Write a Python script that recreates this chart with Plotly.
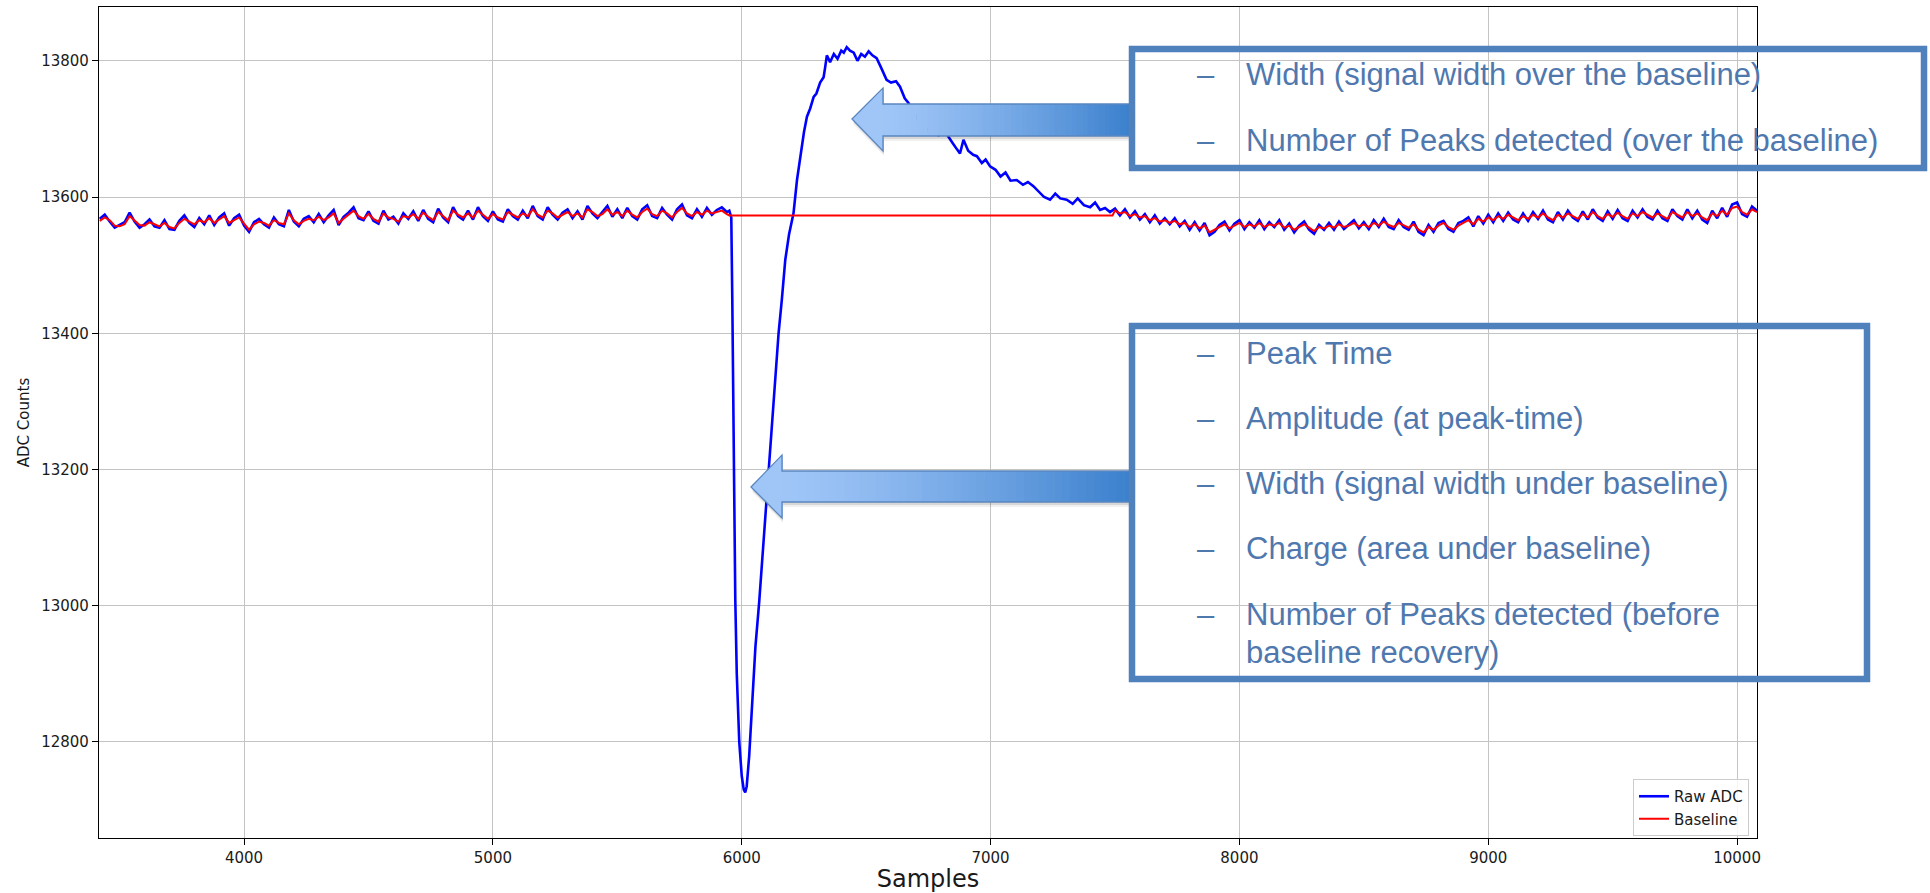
import numpy as np
import plotly.graph_objects as go

# ---------------- data ----------------
pre_start, pre_step = 3420, 20          # samples 3420 .. 5940
pre_raw = [
    13568, 13574, 13564, 13555, 13559, 13563, 13577, 13564, 13555, 13560,
    13567, 13557, 13555, 13566, 13553, 13552, 13565, 13573, 13562, 13556,
    13569, 13560, 13573, 13559, 13570, 13576, 13558, 13569, 13574, 13558,
    13549, 13563, 13568, 13560, 13555, 13570, 13560, 13557, 13581, 13564,
    13557, 13568, 13572, 13563, 13575, 13563, 13573, 13581, 13559, 13571,
    13577, 13585, 13569, 13566, 13579, 13565, 13561, 13580, 13567, 13571,
    13561, 13576, 13568, 13579, 13565, 13581, 13568, 13563, 13583, 13570,
    13563, 13585, 13572, 13567, 13580, 13567, 13585, 13572, 13565, 13579,
    13567, 13564, 13582, 13572, 13567, 13580, 13569, 13587, 13572, 13567,
    13585, 13574, 13567, 13577, 13582, 13569, 13579, 13567, 13587, 13576,
    13569, 13578, 13587, 13571, 13582, 13569, 13584, 13572, 13567, 13582,
    13588, 13572, 13569, 13584, 13574, 13567, 13582, 13589, 13573, 13569,
    13582, 13571, 13584, 13574, 13581, 13585, 13578]
pre_base = [
    13565, 13570, 13566, 13558, 13557, 13560, 13572, 13566, 13559, 13558,
    13563, 13560, 13557, 13562, 13556, 13554, 13562, 13568, 13564, 13560,
    13566, 13563, 13569, 13562, 13567, 13572, 13562, 13566, 13570, 13561,
    13552, 13560, 13564, 13562, 13558, 13566, 13562, 13560, 13576, 13566,
    13560, 13565, 13568, 13566, 13571, 13566, 13570, 13576, 13562, 13568,
    13574, 13580, 13572, 13568, 13575, 13568, 13564, 13576, 13570, 13568,
    13564, 13572, 13570, 13575, 13568, 13577, 13571, 13566, 13578, 13572,
    13566, 13580, 13574, 13570, 13576, 13570, 13580, 13574, 13568, 13575,
    13570, 13567, 13578, 13574, 13570, 13576, 13572, 13582, 13574, 13570,
    13580, 13576, 13570, 13574, 13578, 13572, 13576, 13570, 13582, 13578,
    13572, 13575, 13582, 13574, 13578, 13572, 13580, 13574, 13570, 13578,
    13583, 13575, 13572, 13580, 13576, 13570, 13578, 13584, 13576, 13572,
    13578, 13574, 13580, 13576, 13578, 13580, 13575]

pulse_samples = [
    5950, 5958, 5962, 5966, 5970, 5974, 5980, 5990, 6000, 6008,
    6014, 6020, 6030, 6040, 6055, 6070, 6085, 6100, 6118, 6135,
    6148, 6161, 6175, 6190, 6208, 6222, 6236, 6250, 6262, 6275,
    6289, 6300, 6315, 6329, 6335, 6342, 6355, 6370, 6385, 6400,
    6410, 6422, 6435, 6450, 6465, 6480, 6495, 6510, 6525, 6542,
    6560, 6582, 6600, 6620, 6636, 6655, 6670, 6690, 6710, 6730,
    6750, 6770, 6791, 6810, 6830, 6850, 6865, 6877, 6891, 6910,
    6930, 6945, 6965, 6980, 6998, 7020, 7040, 7060, 7080, 7105,
    7130, 7150, 7172, 7195, 7215, 7239, 7260, 7280, 7306, 7330,
    7350, 7375, 7400, 7420, 7440, 7460, 7480]
pulse_raw = [
    13580, 13570, 13450, 13300, 13150, 13010, 12900, 12800, 12750, 12730,
    12726, 12735, 12780, 12850, 12940, 13005, 13080, 13155, 13253, 13340,
    13400, 13449, 13508, 13545, 13576, 13625, 13664, 13695, 13718, 13730,
    13747, 13752, 13768, 13776, 13790, 13808, 13798, 13810, 13803, 13815,
    13812, 13820, 13815, 13812, 13800, 13810, 13806, 13814, 13808, 13804,
    13790, 13772, 13768, 13770, 13762, 13745, 13738, 13725, 13712, 13705,
    13698, 13694, 13691, 13700, 13688, 13678, 13670, 13664, 13684, 13668,
    13662, 13660, 13650, 13655, 13645, 13640, 13630, 13636, 13624, 13625,
    13618, 13622, 13616, 13608, 13600, 13596, 13605, 13598, 13596, 13590,
    13598, 13588, 13585, 13592, 13581, 13584, 13578]
hold_samples = [5950, 7490]
hold_base = [13573, 13573]

post_start, post_step = 7500, 20        # samples 7500 .. 10080
post_raw = [
    13583, 13573, 13582, 13570, 13579, 13567, 13575, 13563, 13573, 13561,
    13569, 13560, 13569, 13557, 13565, 13552, 13563, 13551, 13562, 13544,
    13549, 13559, 13564, 13551, 13561, 13566, 13553, 13563, 13555, 13566,
    13553, 13563, 13556, 13566, 13552, 13561, 13548, 13558, 13564, 13552,
    13546, 13559, 13552, 13562, 13552, 13564, 13553, 13560, 13566, 13554,
    13563, 13553, 13566, 13556, 13568, 13556, 13553, 13566, 13556, 13552,
    13564, 13549, 13544, 13559, 13549, 13562, 13565, 13553, 13549, 13562,
    13565, 13570, 13557, 13572, 13561, 13574, 13563, 13576, 13565, 13577,
    13567, 13563, 13576, 13565, 13578, 13568, 13580, 13567, 13563, 13578,
    13567, 13580, 13570, 13565, 13579, 13567, 13582, 13570, 13565, 13579,
    13568, 13581, 13569, 13565, 13580, 13570, 13582, 13571, 13567, 13580,
    13569, 13565, 13582, 13572, 13567, 13582, 13569, 13580, 13567, 13562,
    13580, 13569, 13584, 13571, 13589, 13592, 13575, 13571, 13586, 13580]
post_base = [
    13580, 13576, 13578, 13572, 13575, 13570, 13572, 13566, 13569, 13564,
    13566, 13562, 13565, 13560, 13562, 13556, 13560, 13554, 13558, 13548,
    13552, 13556, 13560, 13554, 13558, 13562, 13556, 13560, 13557, 13562,
    13556, 13560, 13558, 13562, 13555, 13558, 13552, 13556, 13560, 13555,
    13550, 13556, 13554, 13558, 13555, 13560, 13556, 13558, 13562, 13557,
    13560, 13556, 13562, 13558, 13564, 13559, 13556, 13562, 13558, 13555,
    13560, 13552, 13548, 13556, 13552, 13558, 13562, 13556, 13552, 13558,
    13562, 13566, 13560, 13568, 13564, 13570, 13566, 13572, 13568, 13574,
    13570, 13566, 13572, 13568, 13574, 13570, 13576, 13570, 13566, 13574,
    13570, 13576, 13572, 13568, 13575, 13570, 13578, 13572, 13568, 13575,
    13571, 13577, 13572, 13568, 13576, 13572, 13578, 13574, 13570, 13576,
    13572, 13568, 13578, 13574, 13570, 13578, 13572, 13576, 13570, 13566,
    13576, 13572, 13580, 13574, 13584, 13586, 13578, 13574, 13582, 13578]

x_ticks = [4000, 5000, 6000, 7000, 8000, 9000, 10000]
y_ticks = [12800, 13000, 13200, 13400, 13600, 13800]
x_range = [3417, 10080]
y_range = [12659, 13879]

box_top_items = ["Width (signal width over the baseline)",
                 "Number of Peaks detected (over the baseline)"]
box_bottom_items = ["Peak Time", "Amplitude (at peak-time)",
                    "Width (signal width under baseline)",
                    "Charge (area under baseline)",
                    "Number of Peaks detected (before", "baseline recovery)"]

# ---------------- assemble series ----------------
pre_x = list(pre_start + pre_step * np.arange(len(pre_raw)))
post_x = list(post_start + post_step * np.arange(len(post_raw)))
raw_x = pre_x + pulse_samples + post_x
raw_y = pre_raw + pulse_raw + post_raw
base_x = pre_x + hold_samples + post_x
base_y = pre_base + hold_base + post_base

# ---------------- geometry helpers (figure pixels -> paper) ----------------
W, H = 1930, 893
L, R, T, B = 99, 173, 7, 55
PW, PH = W - L - R, H - T - B


def px(x):
    return (x - L) / PW


def py(y):
    return (H - B - y) / PH


fig = go.Figure()
fig.add_trace(go.Scatter(x=raw_x, y=raw_y, mode="lines", name="Raw ADC",
                         line=dict(color="#0000ff", width=2.6)))
fig.add_trace(go.Scatter(x=base_x, y=base_y, mode="lines", name="Baseline",
                         line=dict(color="#ff0000", width=2)))

shapes = []


def arrow(tip_x, tip_y, head_back, head_top, head_bot, sh_top, sh_bot, right):
    outline = [(tip_x, tip_y), (head_back, head_top), (head_back, sh_top),
               (right, sh_top), (right, sh_bot), (head_back, sh_bot),
               (head_back, head_bot)]

    def path(pts, dx=0, dy=0):
        s = "M " + " L ".join(f"{px(a + dx):.5f},{py(b + dy):.5f}" for a, b in pts)
        return s + " Z"

    # soft shadow
    for d, a in ((5, 0.06), (3, 0.10)):
        shapes.append(dict(type="path", xref="paper", yref="paper", layer="above",
                           path=path(outline, 1, d), fillcolor=f"rgba(0,0,0,{a})",
                           line=dict(width=0)))
    # gradient shaft
    c0 = np.array([160, 198, 248])
    c1 = np.array([58, 128, 205])
    n = 45
    for i in range(n):
        x0 = head_back + (right - head_back) * i / n
        x1 = head_back + (right - head_back) * (i + 1) / n + 0.6
        t = ((i + 0.5) / n) ** 1.3
        c = (c0 + (c1 - c0) * t).astype(int)
        shapes.append(dict(type="rect", xref="paper", yref="paper", layer="above",
                           x0=px(x0), x1=px(min(x1, right)), y0=py(sh_bot), y1=py(sh_top),
                           fillcolor=f"rgb({c[0]},{c[1]},{c[2]})", line=dict(width=0)))
    # head
    shapes.append(dict(type="path", xref="paper", yref="paper", layer="above",
                       path=path([(tip_x, tip_y), (head_back + 0.8, head_top),
                                  (head_back + 0.8, head_bot)]),
                       fillcolor="rgb(160,198,248)", line=dict(width=0)))
    # outline
    shapes.append(dict(type="path", xref="paper", yref="paper", layer="above",
                       path=path(outline), fillcolor="rgba(0,0,0,0)",
                       line=dict(color="#5a86c0", width=1.3)))


arrow(852, 119, 883, 88, 151, 104, 136, 1132)
arrow(751, 487, 782, 455, 518, 471, 502, 1132)

box_col = "#4f81bd"
for (x0, y0, x1, y1) in [(1132, 49, 1924, 168), (1132, 326, 1867, 679)]:
    shapes.append(dict(type="rect", xref="paper", yref="paper", layer="above",
                       x0=px(x0), x1=px(x1), y0=py(y1), y1=py(y0),
                       fillcolor="rgba(0,0,0,0)", line=dict(color=box_col, width=6.5)))

annotations = []
txt_col = "#4f78ae"
txt_font = dict(family="Liberation Sans, Arial, sans-serif", size=31, color=txt_col)


def item(text, y, dash=True):
    if dash:
        annotations.append(dict(xref="paper", yref="paper", x=px(1206), y=py(y),
                                text="–", showarrow=False, xanchor="center",
                                yanchor="middle", font=txt_font))
    annotations.append(dict(xref="paper", yref="paper", x=px(1244), y=py(y),
                            text=text, showarrow=False, xanchor="left",
                            yanchor="middle", font=txt_font))


for t, y in zip(box_top_items, [75, 140]):
    item(t, y)
ys = [353, 418, 483, 548, 614, 652]
for i, (t, y) in enumerate(zip(box_bottom_items, ys)):
    item(t, y, dash=(i < 5))

axis_font = dict(family="DejaVu Sans, sans-serif", size=15, color="#1a1a1a")
common = dict(showline=True, linecolor="#000000", linewidth=1.2, mirror=True,
              ticks="outside", ticklen=6, tickwidth=1.2, tickcolor="#000000",
              showgrid=True, gridcolor="#c4c4c4", gridwidth=1, zeroline=False,
              tickfont=axis_font)

fig.update_layout(
    width=W, height=H,
    margin=dict(l=L, r=R, t=T, b=B, autoexpand=False),
    paper_bgcolor="#ffffff", plot_bgcolor="#ffffff",
    xaxis=dict(range=x_range, tickvals=x_ticks, ticktext=[str(v) for v in x_ticks],
               title=dict(text="Samples", standoff=13,
                          font=dict(family="DejaVu Sans, sans-serif", size=24, color="#1a1a1a")),
               automargin=False, **common),
    yaxis=dict(range=y_range, tickvals=y_ticks, ticktext=[str(v) for v in y_ticks],
               title=dict(text="ADC Counts", standoff=7,
                          font=dict(family="DejaVu Sans, sans-serif", size=15, color="#1a1a1a")),
               automargin=False, **common),
    legend=dict(x=px(1749), y=py(836), xanchor="right", yanchor="bottom",
                bgcolor="rgba(255,255,255,0.85)", bordercolor="#cccccc", borderwidth=1,
                font=dict(family="DejaVu Sans, sans-serif", size=15, color="#1a1a1a"),
                itemwidth=30, tracegroupgap=2),
    shapes=shapes,
    annotations=annotations,
    showlegend=True,
)

fig.write_html(
    "out.html",
    config={"displayModeBar": False},
    post_script="document.documentElement.style.margin='0';"
                "document.body.style.margin='0';"
                "document.body.style.overflow='hidden';"
                "document.documentElement.style.overflow='hidden';",
)
